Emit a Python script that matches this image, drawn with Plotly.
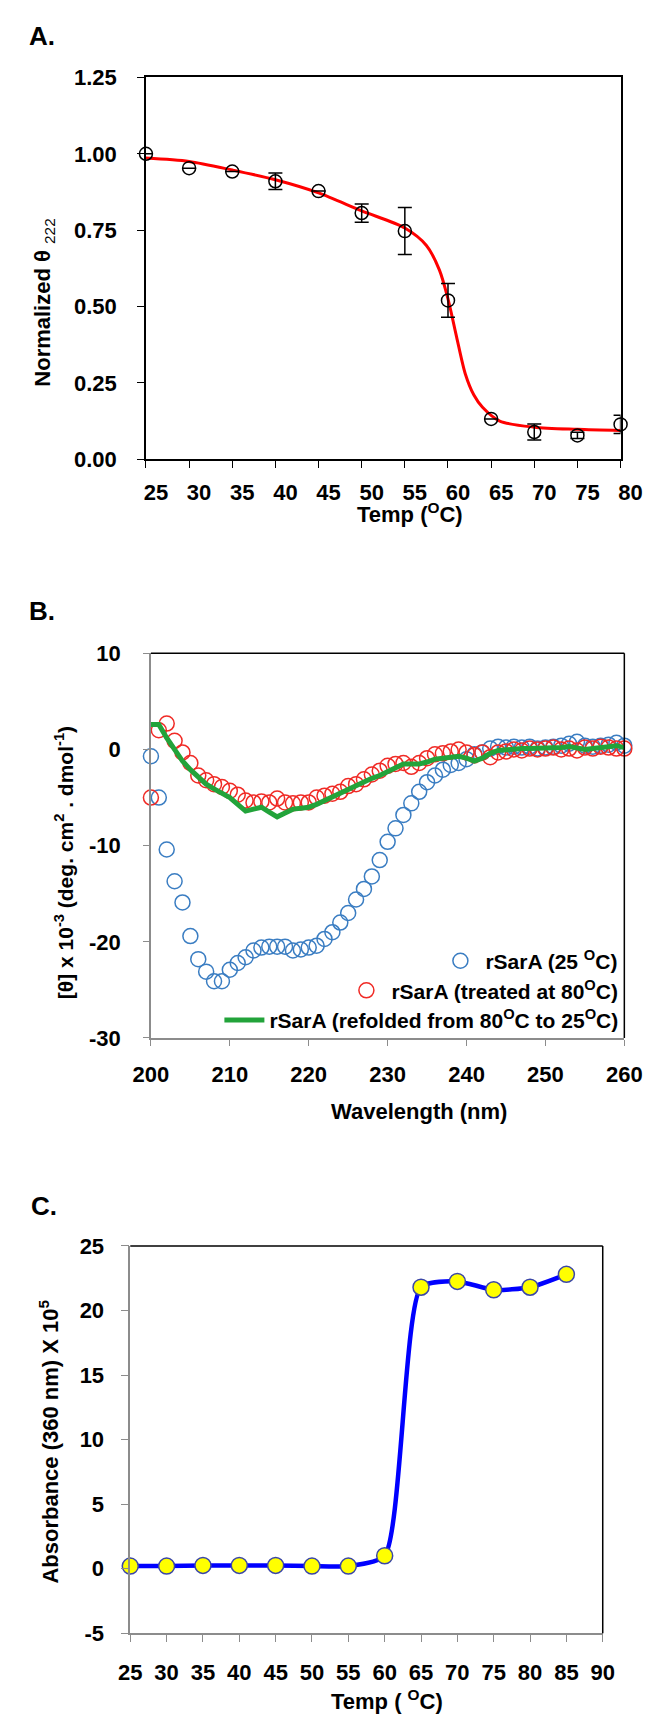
import plotly.graph_objects as go

W, H = 659, 1720

# ---- Panel A: thermal melt, normalized ellipticity at 222 nm ----
temp_a = [25, 30, 35, 40, 45, 50, 55, 60, 65, 70, 75, 80]
theta_a = [1.00, 0.953, 0.942, 0.910, 0.878, 0.806, 0.747, 0.520, 0.132, 0.089, 0.078, 0.114]
theta_a_err = [0.0, None, None, 0.027, None, 0.030, 0.077, 0.055, None, 0.026, 0.010, 0.030]
fit_temp = [25, 30, 35, 40, 45, 50, 55, 57.5, 59, 60, 61, 62, 63, 64, 66, 70, 75, 80]
fit_theta = [0.986, 0.975, 0.947, 0.915, 0.872, 0.813, 0.757, 0.70, 0.62, 0.525, 0.40,
             0.28, 0.21, 0.17, 0.125, 0.105, 0.098, 0.094]
a_xticks = [25, 30, 35, 40, 45, 50, 55, 60, 65, 70, 75, 80]
a_yticks = [0, 0.25, 0.5, 0.75, 1.0, 1.25]
a_ylabels = ["0.00", "0.25", "0.50", "0.75", "1.00", "1.25"]

# ---- Panel B: far-UV CD spectra ----
wavelength = list(range(200, 261))
cd_25 = [-0.7, -5.0, -10.4, -13.7, -15.9, -19.4, -21.8, -23.1, -24.1, -24.1,
         -22.9, -22.2, -21.6, -20.9, -20.6, -20.5, -20.5, -20.5, -20.9, -20.8,
         -20.6, -20.4, -19.7, -19.0, -18.0, -17.0, -15.6, -14.5, -13.2, -11.5,
         -9.6, -8.2, -6.8, -5.6, -4.4, -3.4, -2.7, -2.1, -1.6, -1.4,
         -1.0, -0.5, -0.3, 0.1, 0.3, 0.2, 0.3, 0.2, 0.3, 0.1,
         0.2, 0.3, 0.4, 0.6, 0.8, 0.4, 0.3, 0.4, 0.5, 0.7, 0.4]
cd_80 = [-5.0, 2.0, 2.7, 0.9, -0.3, -1.4, -2.7, -3.2, -3.6, -3.9,
         -4.3, -4.7, -5.3, -5.5, -5.4, -5.5, -5.1, -5.5, -5.6, -5.5,
         -5.5, -5.0, -4.8, -4.6, -4.4, -3.8, -3.6, -3.1, -2.6, -2.2,
         -1.7, -1.5, -1.4, -1.8, -1.4, -0.9, -0.5, -0.4, -0.2, 0.0,
         -0.3, -0.6, -0.3, -0.8, -0.3, -0.2, 0.0, -0.1, 0.1, 0.0,
         0.1, 0.2, 0.0, 0.1, -0.1, 0.2, 0.1, 0.3, 0.2, 0.1, 0.1]
cd_refold = [2.6, 2.6, 1.2, 0.0, -1.2, -2.1, -2.9, -3.6, -4.1, -4.5,
             -5.0, -5.7, -6.4, -6.2, -6.0, -6.5, -7.0, -6.6, -6.2, -6.1,
             -6.0, -5.7, -5.3, -4.9, -4.6, -4.2, -3.8, -3.3, -3.0, -2.7,
             -2.3, -1.9, -1.5, -1.5, -1.5, -1.3, -1.0, -0.9, -0.8, -0.7,
             -0.9, -1.2, -0.9, -0.4, -0.1, 0.0, 0.0, 0.1, 0.1, 0.1,
             0.2, 0.1, 0.2, 0.3, 0.2, 0.0, 0.1, 0.2, 0.4, 0.4, 0.2]
b_xticks = [200, 210, 220, 230, 240, 250, 260]
b_yticks = [-30, -20, -10, 0, 10]
b_ylabels = ["-30", "-20", "-10", "0", "10"]
b_names = ["rSarA (25 <sup>O</sup>C)",
           "rSarA (treated at 80<sup>O</sup>C)",
           "rSarA (refolded from 80<sup>O</sup>C to 25<sup>O</sup>C)"]

# ---- Panel C: turbidity (absorbance at 360 nm) ----
temp_c = [25, 30, 35, 40, 45, 50, 55, 60, 65, 70, 75, 80, 85]
abs_c = [0.2, 0.2, 0.25, 0.25, 0.25, 0.2, 0.2, 1.0, 21.8, 22.25, 21.6, 21.8, 22.8]
c_xticks = [25, 30, 35, 40, 45, 50, 55, 60, 65, 70, 75, 80, 85, 90]
c_yticks = [-5, 0, 5, 10, 15, 20, 25]
c_ylabels = ["-5", "0", "5", "10", "15", "20", "25"]

FONT = "Liberation Sans, Arial, sans-serif"
tickfont = dict(family=FONT, size=22, color="black", weight="bold")


def px_x(x):
    return x / W


def px_y(y):
    return 1 - y / H


fig = go.Figure()

# panel A
fig.add_trace(go.Scatter(x=fit_temp, y=fit_theta, mode="lines",
                         line=dict(color="#FF0000", width=3, shape="spline", smoothing=0.8),
                         xaxis="x", yaxis="y", showlegend=False))
fig.add_trace(go.Scatter(x=temp_a, y=theta_a, mode="markers",
                         marker=dict(symbol="circle-open", size=13, color="black", line=dict(width=1.5)),
                         error_y=dict(type="data", array=theta_a_err, color="black", thickness=1.5, width=7),
                         xaxis="x", yaxis="y", showlegend=False, cliponaxis=False))

# panel B, each legend entry gets its own right-aligned legend box
fig.add_trace(go.Scatter(x=wavelength, y=cd_25, mode="markers", name=b_names[0], legend="legend",
                         marker=dict(symbol="circle-open", size=15, color="#3A7DC2", line=dict(width=1.5)),
                         xaxis="x2", yaxis="y2", cliponaxis=False))
fig.add_trace(go.Scatter(x=wavelength, y=cd_80, mode="markers", name=b_names[1], legend="legend2",
                         marker=dict(symbol="circle-open", size=15, color="#F02A25", line=dict(width=1.5)),
                         xaxis="x2", yaxis="y2", cliponaxis=False))
fig.add_trace(go.Scatter(x=wavelength, y=cd_refold, mode="lines", name=b_names[2], legend="legend3",
                         line=dict(color="#22A33A", width=5),
                         xaxis="x2", yaxis="y2"))

# panel C
fig.add_trace(go.Scatter(x=temp_c, y=abs_c, mode="lines+markers",
                         line=dict(color="#0000FF", width=4.5, shape="spline", smoothing=0.6),
                         marker=dict(size=16, color="#FFFF00", line=dict(color="#3A46A8", width=1.5)),
                         xaxis="x3", yaxis="y3", showlegend=False, cliponaxis=False))

common = dict(showgrid=False, zeroline=False, ticks="outside", tickfont=tickfont, showline=True)
legfont = dict(family=FONT, size=21, color="black", weight="bold")


def leg(y):
    return dict(x=px_x(636), xanchor="right", y=px_y(y), yanchor="middle",
                bgcolor="rgba(0,0,0,0)", font=legfont, itemwidth=40)


fig.update_layout(
    width=W, height=H, margin=dict(l=0, r=0, t=0, b=0),
    paper_bgcolor="white", plot_bgcolor="white",
    xaxis=dict(domain=[px_x(127.7), px_x(633)], anchor="y", range=[25, 80], tickvals=a_xticks,
               linecolor="black", linewidth=1.5, mirror=True, ticklen=7, tickcolor="black",
               ticklabelshift=10, ticklabelstandoff=6, **common),
    yaxis=dict(domain=[px_y(445.7), px_y(58.3)], anchor="x", range=[0, 1.25], tickvals=a_yticks,
               ticktext=a_ylabels, linecolor="black", linewidth=1.5, mirror=True, ticklen=7,
               tickcolor="black", ticklabelstandoff=16, **common),
    xaxis2=dict(domain=[px_x(133), px_x(637)], anchor="y2", range=[200, 260], tickvals=b_xticks,
                linecolor="#8C8C8C", linewidth=1.5, ticklen=6, tickcolor="#8C8C8C",
                ticklabelstandoff=10, **common),
    yaxis2=dict(domain=[px_y(1033), px_y(642.7)], anchor="x2", range=[-30, 10], tickvals=b_yticks,
                ticktext=b_ylabels, linecolor="#8C8C8C", linewidth=1.5, ticklen=6, tickcolor="#8C8C8C",
                ticklabelstandoff=18, **common),
    xaxis3=dict(domain=[px_x(111), px_x(614)], anchor="y3", range=[25, 90], tickvals=c_xticks,
                linecolor="#8C8C8C", linewidth=1.5, ticklen=7, tickcolor="#8C8C8C",
                ticklabelstandoff=12, **common),
    yaxis3=dict(domain=[px_y(1637), px_y(1244)], anchor="x3", range=[-5, 25], tickvals=c_yticks,
                ticktext=c_ylabels, linecolor="#8C8C8C", linewidth=1.5, ticklen=8, tickcolor="#8C8C8C",
                ticklabelstandoff=12, **common),
    legend=leg(955),
    legend2=leg(985),
    legend3=leg(1015),
)

# black top/right frame on panels B and C
for xr, yr in (("x2 domain", "y2 domain"), ("x3 domain", "y3 domain")):
    fig.add_shape(type="line", xref=xr, yref=yr, x0=0, x1=1, y0=1, y1=1, line=dict(color="black", width=1.5))
    fig.add_shape(type="line", xref=xr, yref=yr, x0=1, x1=1, y0=0, y1=1, line=dict(color="black", width=1.5))

lbl = dict(family=FONT, size=26, color="black", weight="bold")
ttl = dict(family=FONT, size=22, color="black", weight="bold")


def note(text, x, y, font, angle=0):
    fig.add_annotation(text=text, x=px_x(x), y=px_y(y), xref="paper", yref="paper",
                       showarrow=False, font=font, textangle=angle, xanchor="center", yanchor="middle")


note("A.", 17, 16, lbl)
note("B.", 17, 600, lbl)
note("C.", 19, 1203, lbl)

note("Temp (<sup>O</sup>C)", 409, 500, ttl)
note("Normalized θ <sub><span style='font-weight:normal'>222</span></sub>", 19, 287, ttl, -90)
note("Wavelength (nm)", 418, 1108, ttl)
note("[θ] x 10<sup>-3</sup> (deg. cm<sup>2</sup> . dmol<sup>-1</sup>)", 40, 855,
     dict(family=FONT, size=21, color="black", weight="bold"), -90)
note("Temp ( <sup>O</sup>C)", 384, 1705, ttl)
note("Absorbance (360 nm) X 10<sup>5</sup>", 24, 1443, ttl, -90)

fig.write_html("out.html")
